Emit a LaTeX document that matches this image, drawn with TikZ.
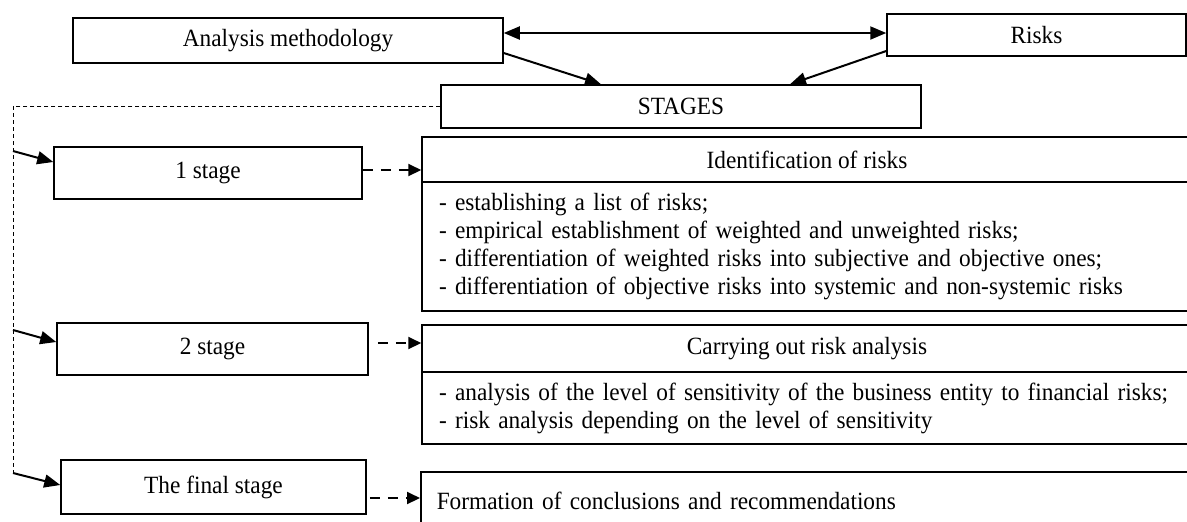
\documentclass[tikz,border=0pt]{standalone}
\usepackage{fontspec}
\setmainfont{Liberation Serif}[FakeStretch=0.94]
\usetikzlibrary{arrows.meta}

\begin{document}
\begin{tikzpicture}[x=0.5pt, y=-0.5pt, >={Triangle[length=8pt,width=6.5pt]},
    box/.style={draw, line width=0.75pt, inner sep=0pt, font=\fontsize{12.4}{14}\selectfont},
    listbox/.style={box, align=left, inner xsep=8.5pt, text width=368pt},
    flow/.style={->, line width=1pt},
    dashflow/.style={-{Triangle[length=6.5pt,width=6pt]}, line width=1pt, dash pattern=on 5pt off 4pt},
    bus/.style={line width=0.5pt, dash pattern=on 2pt off 1.5pt}]
    % \draw[help lines, gray] (0, 0) grid[step=50] (1187, 521);
    \clip (0, 0) rectangle (1187, 521);

    \node[box, minimum width=215pt, minimum height=22.5pt] (am) at (288, 40.5) {Analysis methodology};
    \node[box, minimum width=149.5pt, minimum height=21pt] (risks) at (1036.5, 35) {Risks};
    \node[box, minimum width=240pt, minimum height=21.5pt] (stages) at (681, 106.5) {STAGES};

    \node[box, minimum width=154pt, minimum height=26pt] (s1) at (208, 173) {1 stage};
    \node[box, minimum width=155.5pt, minimum height=26pt] (s2) at (212.5, 349) {2 stage};
    \node[box, minimum width=152.5pt, minimum height=27pt] (s3) at (213.5, 487) {The final stage};

    \node[box, minimum width=385pt, minimum height=22.5pt] (idh) at (807, 159.5) {Identification of risks};
    \node[listbox, minimum height=64.5pt] (idb) at (807, 246.5) {- establishing a list of risks;\\
        - empirical establishment of weighted and unweighted risks;\\
        - differentiation of weighted risks into subjective and objective ones;\\
        - differentiation of objective risks into systemic and non-systemic risks};

    \node[box, minimum width=385pt, minimum height=23.5pt] (cah) at (807, 348.5) {Carrying out risk analysis};
    \node[listbox, minimum height=36pt] (cab) at (807, 408) {- analysis of the level of sensitivity of the business entity to financial risks;\\
        - risk analysis depending on the level of sensitivity};

    \node[box, anchor=west, align=left, inner xsep=8pt, text width=374pt, minimum height=29pt] (form) at (420, 501) {Formation of conclusions and recommendations};

    \draw[<->, line width=1pt] ([yshift=3.75pt]am.east) -- ([yshift=1pt]risks.west);
    \draw[flow] ([yshift=-6.25pt]am.east) -- ([xshift=-40pt]stages.north);
    \draw[flow] ([yshift=-8pt]risks.west) -- ([xshift=54.5pt]stages.north);

    \coordinate (bustop) at (13, 106.5);
    \coordinate (busend) at (13, 473);
    \coordinate (b1) at (13, 151);
    \coordinate (b2) at (13, 330);
    \draw[bus] (stages.west) -- (bustop) -- (busend);

    \draw[flow] (b1) -- ([yshift=5.5pt]s1.west);
    \draw[flow] (b2) -- ([yshift=3.5pt]s2.west);
    \draw[flow] (busend) -- ([yshift=1pt]s3.west);

    \draw[dashflow] ([yshift=1.5pt]s1.east) -- ([yshift=-5.25pt]idh.west);
    \draw[dashflow] ([xshift=4.5pt,yshift=3pt]s2.east) -- ([yshift=2.75pt]cah.west);
    \draw[dashflow] ([xshift=1.5pt,yshift=-5.5pt]s3.east) -- ([yshift=1.5pt]form.west);
\end{tikzpicture}
\end{document}
